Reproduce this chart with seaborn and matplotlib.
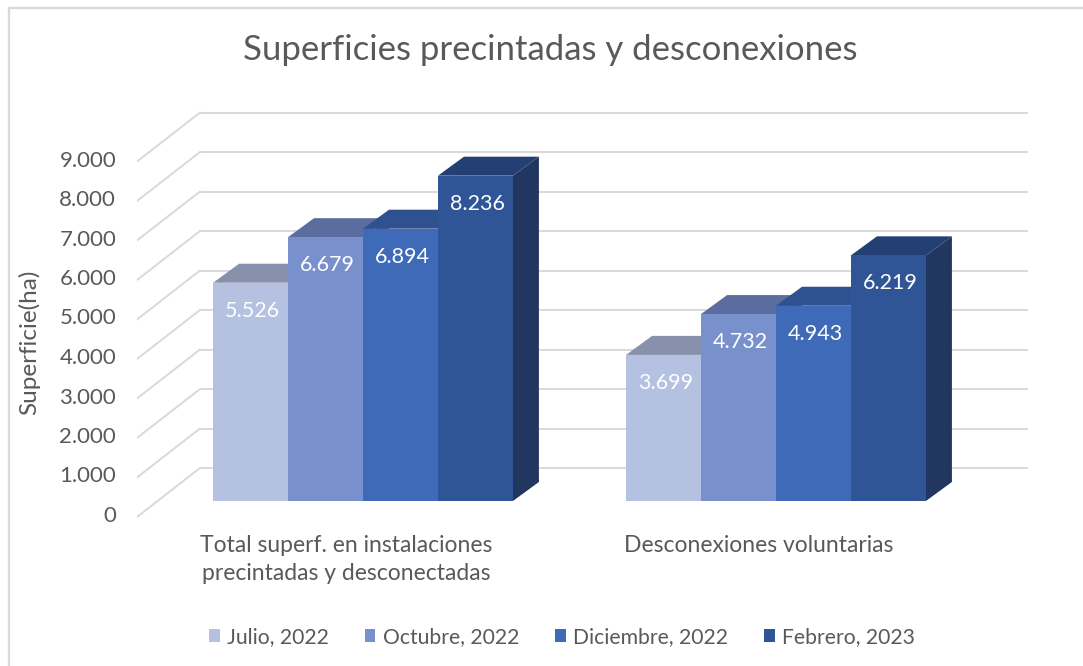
import numpy as np
import pandas as pd
import matplotlib
matplotlib.use("Agg")
import matplotlib.pyplot as plt
import seaborn as sns
from matplotlib.patches import Polygon, Patch
from matplotlib.lines import Line2D

# ---------------- data ----------------
categories = ["Total superf. en instalaciones\nprecintadas y desconectadas",
              "Desconexiones voluntarias"]
periods = ["Julio, 2022", "Octubre, 2022", "Diciembre, 2022", "Febrero, 2023"]
julio = [5526, 3699]
octubre = [6679, 4732]
diciembre = [6894, 4943]
febrero = [8236, 6219]
yticks = [0, 1000, 2000, 3000, 4000, 5000, 6000, 7000, 8000, 9000]
ytick_labels = ["0", "1.000", "2.000", "3.000", "4.000", "5.000",
                "6.000", "7.000", "8.000", "9.000"]
title = "Superficies precintadas y desconexiones"
ylabel = "Superficie(ha)"

# ---------------- style ----------------
front_colors = ["#B4C1E1", "#7891CD", "#3F6AB7", "#2F5597"]
top_colors = ["#8791AC", "#5B6C9E", "#2F5190", "#243F74"]
side_colors = ["#7E89A6", "#52649A", "#284A88", "#21375F"]
grid_color = "#D9D9D9"
text_color = "#595959"
FONT = ["Lato", "DejaVu Sans"]

sns.set_theme(style="white")
plt.rcParams["font.family"] = FONT

W, H = 1083, 666
fig = plt.figure(figsize=(W / 100, H / 100), dpi=100)
fig.patch.set_facecolor("white")

# axes box in pixels
L, R, T, B = 137, 1030, 100, 522
ax = fig.add_axes([L / W, 1 - B / H, (R - L) / W, (B - T) / H])

# pixel scale helpers
X0PX, XSCALE = 363.0, 413.0      # category 0 center, px per category
Y0PX, YSCALE = 501.0, 0.0395     # value 0 in front plane, px per unit
def px2x(p):
    return (p - X0PX) / XSCALE
def dxp(p):
    return p / XSCALE
def dyp(p):
    return p / YSCALE

df = pd.DataFrame({
    "categoria": np.tile(categories, len(periods)),
    "periodo": np.repeat(periods, len(categories)),
    "valor": julio + octubre + diciembre + febrero,
})

sns.barplot(data=df, x="categoria", y="valor", hue="periodo",
            order=categories, hue_order=periods, palette=front_colors,
            width=0.726, saturation=1, linewidth=0, legend=False, ax=ax)
ax.set_xlim(px2x(L), px2x(R))
ax.set_ylim(-(B - Y0PX) / YSCALE, (Y0PX - T) / YSCALE)

# ---- back wall gridlines and left diagonals ----
wall_dy = dyp(33)
for v in yticks:
    ax.plot([px2x(200), px2x(1028)], [v + wall_dy, v + wall_dy],
            color=grid_color, lw=1.4, zorder=0.5, solid_capstyle="butt")
    ax.plot([px2x(137), px2x(200)], [v - dyp(16), v + wall_dy],
            color=grid_color, lw=1.4, zorder=0.5)

# ---- 3D faces ----
ddx, ddy = dxp(26), dyp(19)
for j, cont in enumerate(ax.containers):
    for bar in cont:
        x0 = bar.get_x()
        w = bar.get_width()
        h = bar.get_height()
        bar.set_zorder(3 + 2 * j + 1)
        side = Polygon([(x0 + w, 0), (x0 + w + ddx, ddy),
                        (x0 + w + ddx, h + ddy), (x0 + w, h)],
                       closed=True, facecolor=side_colors[j], lw=0,
                       zorder=3 + 2 * j)
        top = Polygon([(x0, h), (x0 + w, h), (x0 + w + ddx, h + ddy),
                       (x0 + ddx, h + ddy)],
                      closed=True, facecolor=top_colors[j], lw=0,
                      zorder=3 + 2 * j)
        ax.add_patch(side)
        ax.add_patch(top)
        lab = f"{int(h):,}".replace(",", ".")
        ax.text(x0 + w / 2 + dxp(2), h - dyp(28), lab, ha="center",
                va="center", color="white", fontsize=15.5, zorder=20)

# ---- axes decorations ----
for s in ax.spines.values():
    s.set_visible(False)
ax.grid(False)
ax.set_facecolor("none")
ax.set_yticks([v - dyp(13) for v in yticks])
ax.set_yticklabels(ytick_labels)
ax.tick_params(axis="y", length=0, pad=15, labelsize=16, labelcolor=text_color)
ax.set_xticks([i - dxp(17) for i in range(len(categories))])
ax.set_xticklabels(categories, linespacing=1.45)
ax.tick_params(axis="x", length=0, pad=9, labelsize=16.5, labelcolor=text_color)
ax.set_xlabel("")
ax.set_ylabel(ylabel, fontsize=17.5, color=text_color)
ax.yaxis.set_label_coords((40 - L) / (R - L), (B - 342) / (B - T))

fig.text(550 / W, 1 - 50 / H, title, ha="center", va="center",
         fontsize=25, color=text_color)

handles = [Patch(facecolor=c, edgecolor="none") for c in front_colors]
fig.legend(handles, periods, ncol=4, loc="center",
           bbox_to_anchor=(562 / W, 1 - 637 / H), frameon=False,
           handlelength=0.5, handleheight=0.5, handletextpad=0.35,
           columnspacing=1.7, fontsize=15.2, labelcolor=text_color)

# chart border (top and left edges visible)
fig.add_artist(Line2D([9 / W, 1], [1 - 8 / H, 1 - 8 / H], color="#D9D9D9",
                      lw=1.6, transform=fig.transFigure))
fig.add_artist(Line2D([9 / W, 9 / W], [0, 1 - 8 / H], color="#D9D9D9",
                      lw=1.6, transform=fig.transFigure))

fig.savefig("out.png", dpi=100, facecolor="white")
